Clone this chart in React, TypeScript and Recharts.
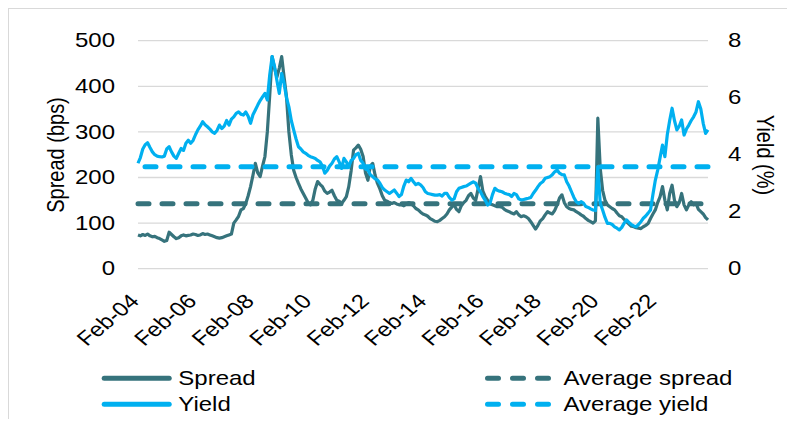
import React from "react";
import { LineChart, Line, XAxis, YAxis, CartesianGrid, ReferenceLine } from "recharts";

const TEAL = "#36737C";
const BLUE = "#00B0F0";
const FONT = "'Liberation Sans', Arial, sans-serif";
const SX = 1.2; // reference text is stretched horizontally

const MONTH_NAMES = ["Jan", "Feb", "Mar", "Apr", "May", "Jun", "Jul", "Aug", "Sep", "Oct", "Nov", "Dec"];
const START_YEAR = 2004;
const START_MONTH = 1; // Feb

// spread, bps (monthly, Feb-04 .. Dec-23)
const spread = [
  74, 72, 75, 73, 76, 72, 70, 71, 68, 66, 63, 60,
  62, 80, 75, 70, 66, 68, 72, 74, 72, 73, 74, 76,
  75, 73, 74, 77, 75, 76, 74, 72, 70, 68, 67, 68,
  70, 72, 74, 76, 100, 107, 115, 129, 132, 143, 160, 180,
  205, 231, 210, 202, 225, 246, 300, 380, 465, 440, 420, 440,
  465, 420, 377, 300, 250, 216, 200, 187, 175, 165, 155, 145,
  140, 150, 175, 191, 185, 180, 170, 165, 168, 172, 160, 150,
  148, 143, 150, 158, 180, 215, 260, 265, 271, 262, 246, 210,
  194, 225, 231, 205, 187, 175, 160, 150, 148, 145, 143, 145,
  142, 140, 140, 138, 142, 145, 143, 138, 132, 129, 124, 120,
  118, 115, 110, 107, 104, 103, 106, 110, 114, 120, 129, 135,
  140, 130, 125, 138, 145, 150, 160, 165, 155, 150, 175, 202,
  170, 158, 150, 142, 140, 138, 136, 136, 135, 130, 127, 125,
  122, 120, 125, 118, 114, 116, 114, 110, 103, 95, 87, 95,
  105, 110, 118, 125, 122, 120, 128, 140, 155, 162, 145, 136,
  132, 130, 129, 125, 122, 118, 115, 110, 106, 103, 100, 105,
  330, 220, 172, 150, 140, 136, 132, 129, 122, 116, 114, 108,
  103, 98, 93, 92, 90, 89, 88, 92, 95, 99, 110, 120,
  129, 145, 158, 180, 150, 129, 165, 183, 150, 136, 145, 165,
  140, 129, 140, 147, 140, 143, 130, 125, 120, 112, 107,
];

// yield, %
const yieldPct = [
  3.7, 3.9, 4.2, 4.35, 4.42, 4.25, 4.1, 4.0, 3.95, 3.93, 3.92, 3.95,
  4.2, 4.28, 4.1, 3.95, 3.87, 4.05, 4.22, 4.15, 4.4, 4.51, 4.4, 4.5,
  4.7, 4.87, 5.0, 5.16, 5.05, 4.98, 4.9, 4.8, 4.75, 4.85, 5.04, 4.92,
  5.0, 5.2, 5.04, 5.25, 5.33, 5.45, 5.5, 5.42, 5.39, 5.5, 5.35, 5.1,
  5.4, 5.57, 5.74, 5.9, 6.03, 6.15, 5.92, 6.8, 7.44, 7.1, 6.6, 6.15,
  6.85, 6.5, 6.0, 5.68, 5.2, 4.87, 4.55, 4.28, 4.2, 4.1, 4.05, 3.98,
  3.93, 3.9, 3.87, 3.8, 3.75, 3.6, 3.35, 3.45, 3.6, 3.7, 3.85, 3.93,
  3.75, 3.52, 3.87, 3.75, 3.58, 3.8, 3.87, 4.0, 4.05, 3.8, 3.7, 3.5,
  3.46, 3.3, 3.23, 3.15, 3.11, 3.0, 2.85, 2.76, 2.7, 2.64, 2.7, 2.76,
  2.65, 2.53, 2.6, 2.9, 3.11, 3.05, 3.17, 3.05, 2.95, 2.99, 2.94, 2.85,
  2.7, 2.64, 2.62, 2.6, 2.58, 2.58, 2.6, 2.55, 2.64, 2.64, 2.5, 2.41,
  2.45, 2.7, 2.82, 2.85, 2.88, 2.9, 2.95, 3.0, 3.05, 3.0, 2.82, 2.7,
  2.53, 2.4, 2.23, 2.3, 2.6, 2.82, 2.75, 2.72, 2.7, 2.65, 2.62, 2.6,
  2.53, 2.64, 2.6, 2.45, 2.41, 2.43, 2.45, 2.47, 2.5, 2.64, 2.75, 2.88,
  2.99, 3.05, 3.17, 3.2, 3.23, 3.3, 3.4, 3.46, 3.35, 3.3, 3.29, 3.05,
  2.9, 2.7, 2.5, 2.35, 2.29, 2.35, 2.3, 2.18, 2.15, 2.1, 2.06, 2.04,
  3.58, 2.3, 2.06, 1.8, 1.59, 1.59, 1.55, 1.47, 1.42, 1.36, 1.45, 1.6,
  1.71, 1.62, 1.55, 1.5, 1.47, 1.55, 1.65, 1.77, 1.85, 1.95, 2.06, 2.6,
  3.1, 3.46, 3.9, 4.34, 3.93, 4.7, 5.2, 5.63, 5.2, 4.87, 5.0, 5.22,
  4.69, 4.9, 5.04, 5.2, 5.33, 5.5, 5.86, 5.6, 5.1, 4.75, 4.87,
];

const avgSpread = 142.5;
const avgYield = 3.58;

const spreadTicks = [0, 100, 200, 300, 400, 500];
const yieldTicks = [0, 2, 4, 6, 8];

const legendItems = [
  { name: "Spread", color: TEAL, dashed: false },
  { name: "Yield", color: BLUE, dashed: false },
  { name: "Average spread", color: TEAL, dashed: true },
  { name: "Average yield", color: BLUE, dashed: true },
];

const data = spread.map((s, i) => {
  const mi = START_MONTH + i;
  const yr = START_YEAR + Math.floor(mi / 12);
  return {
    date: `${MONTH_NAMES[mi % 12]}-${String(yr).slice(2)}`,
    spread: s,
    yield: yieldPct[i],
  };
});

const LeftTick = ({ x, y, payload }: any) => (
  <g transform={`translate(${x},${y}) scale(${SX},1)`}>
    <text x={0} y={0} textAnchor="end" dominantBaseline="central" fontSize={20} fill="#000" fontFamily={FONT}>
      {payload.value}
    </text>
  </g>
);

const RightTick = ({ x, y, payload }: any) => (
  <g transform={`translate(${x},${y}) scale(${SX},1)`}>
    <text x={0} y={0} textAnchor="start" dominantBaseline="central" fontSize={20} fill="#000" fontFamily={FONT}>
      {payload.value}
    </text>
  </g>
);

const DateTick = ({ x, y, payload }: any) => (
  <g transform={`translate(${x - 3.3},${y + 28.8}) scale(${SX},1) rotate(-45)`}>
    <text x={0} y={0} textAnchor="end" dominantBaseline="central" fontSize={20} fill="#000" fontFamily={FONT}>
      {payload.value}
    </text>
  </g>
);

const axisTitle = (text: string, x: number, y: number, angle: number) => () => (
  <text
    transform={`translate(${x},${y}) scale(${SX},1) rotate(${angle})`}
    textAnchor="middle"
    dominantBaseline="central"
    fontSize={20}
    fill="#000"
    fontFamily={FONT}
  >
    {text}
  </text>
);

function LegendOverlay() {
  const cols = [92.7, 476];
  const rows = [369.3, 395.3];
  return (
    <svg width={778} height={410} style={{ position: "absolute", left: 0, top: 0, pointerEvents: "none" }}>
      {legendItems.map((it, i) => {
        const x = cols[it.dashed ? 1 : 0];
        const y = rows[i % 2];
        const len = it.dashed ? 66 : 70;
        const gap = it.dashed ? 12.5 : 6.6;
        return (
          <g key={it.name}>
            <line
              x1={x + 2.5}
              x2={x + len - 2.5}
              y1={y}
              y2={y}
              stroke={it.color}
              strokeWidth={5}
              strokeLinecap="round"
              strokeDasharray={it.dashed ? "11 14" : undefined}
            />
            <g transform={`translate(${x + len + gap},${y}) scale(${SX},1)`}>
              <text x={0} y={0} dominantBaseline="central" fontSize={20} fill="#000" fontFamily={FONT}>
                {it.name}
              </text>
            </g>
          </g>
        );
      })}
    </svg>
  );
}

export default function App() {
  return (
    <div
      style={{
        position: "relative",
        width: 778,
        height: 410,
        borderLeft: "1px solid #D9D9D9",
        borderTop: "1px solid #D9D9D9",
        background: "#fff",
        overflow: "hidden",
      }}
    >
      <LineChart width={778} height={410} data={data} margin={{ top: 31.7, right: 0, left: 0, bottom: 0 }}>
        <CartesianGrid yAxisId="left" vertical={false} stroke="#D9D9D9" strokeWidth={1.3} />
        <XAxis
          dataKey="date"
          interval={23}
          height={150.3}
          tickSize={0}
          tickMargin={0}
          axisLine={false}
          tickLine={false}
          tick={<DateTick />}
        />
        <YAxis
          yAxisId="left"
          orientation="left"
          width={129}
          domain={[0, 500]}
          ticks={spreadTicks}
          axisLine={false}
          tickLine={false}
          tickSize={6}
          tickMargin={17}
          tick={<LeftTick />}
          label={{ content: axisTitle("Spread (bps)", 47, 146, -90) }}
        />
        <YAxis
          yAxisId="right"
          orientation="right"
          width={79}
          domain={[0, 8]}
          ticks={yieldTicks}
          axisLine={false}
          tickLine={false}
          tickSize={6}
          tickMargin={14}
          tick={<RightTick />}
          label={{ content: axisTitle("Yield (%)", 756, 146, 90) }}
        />
        <Line
          yAxisId="left"
          type="linear"
          dataKey="spread"
          stroke={TEAL}
          strokeWidth={3.2}
          dot={false}
          activeDot={false}
          strokeLinejoin="round"
          isAnimationActive={false}
        />
        <ReferenceLine
          yAxisId="left"
          y={avgSpread}
          stroke={TEAL}
          strokeWidth={5}
          strokeDasharray="11 13"
          strokeLinecap="round"
        />
        <Line
          yAxisId="right"
          type="linear"
          dataKey="yield"
          stroke={BLUE}
          strokeWidth={3.2}
          dot={false}
          activeDot={false}
          strokeLinejoin="round"
          isAnimationActive={false}
        />
        <ReferenceLine
          yAxisId="right"
          y={avgYield}
          stroke={BLUE}
          strokeWidth={5}
          strokeDasharray="11 13"
          strokeLinecap="round"
        />
      </LineChart>
      <LegendOverlay />
    </div>
  );
}
